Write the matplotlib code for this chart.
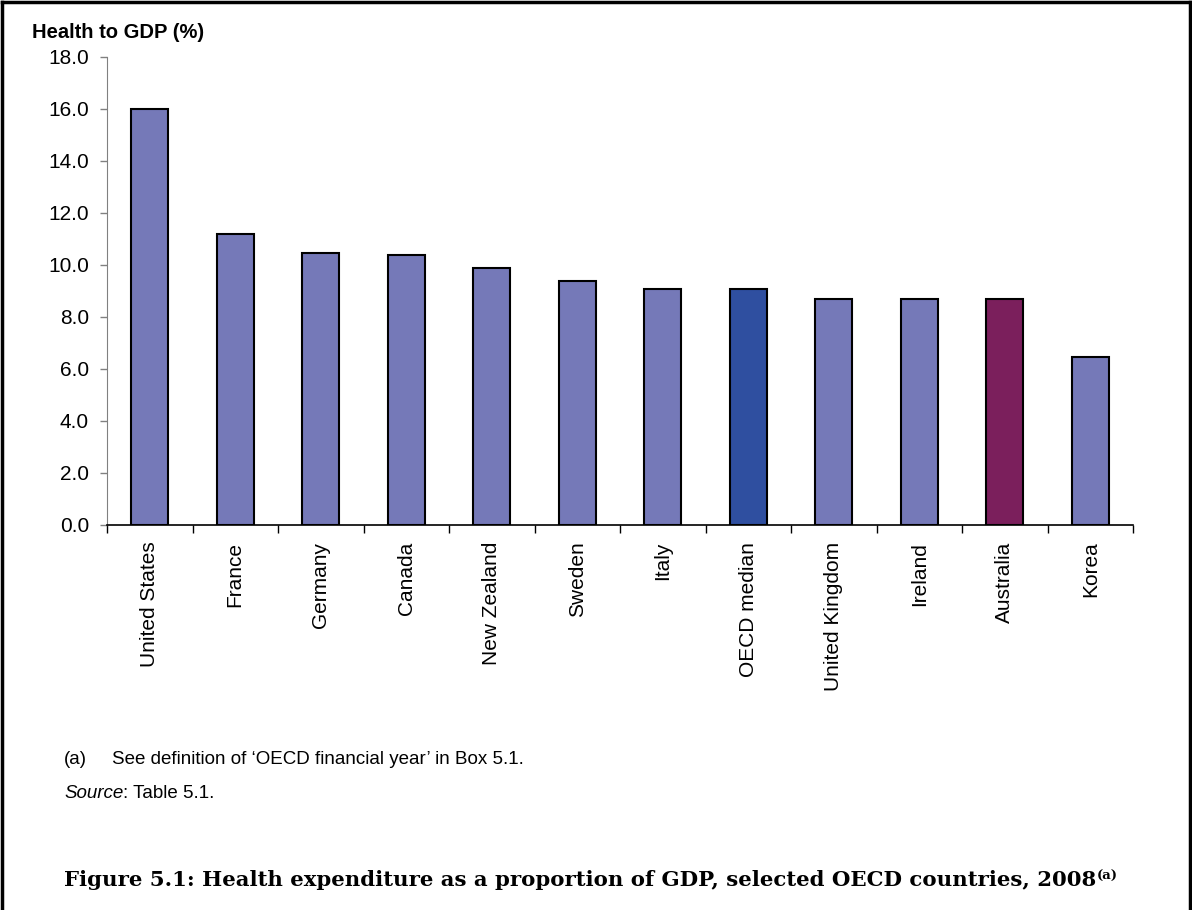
import matplotlib
matplotlib.use('Agg')
import matplotlib.pyplot as plt
from matplotlib.lines import Line2D

countries = ['United States', 'France', 'Germany', 'Canada', 'New Zealand', 'Sweden',
             'Italy', 'OECD median', 'United Kingdom', 'Ireland', 'Australia', 'Korea']
health_gdp = [16.0, 11.2, 10.45, 10.4, 9.9, 9.4, 9.07, 9.07, 8.7, 8.7, 8.7, 6.45]
yticks = [0, 2, 4, 6, 8, 10, 12, 14, 16, 18]

BAR = '#7579b8'
MEDIAN = '#2f4fa0'
AUS = '#7b1f5c'


def main():
    plt.rcParams['font.family'] = ['Liberation Sans', 'DejaVu Sans']
    fig = plt.figure(figsize=(11.92, 9.10), dpi=100)
    ax = fig.add_axes([107 / 1192, 1 - 525 / 910, (1133 - 107) / 1192, (525 - 57) / 910])

    colors = []
    for c in countries:
        if c == 'OECD median':
            colors.append(MEDIAN)
        elif c == 'Australia':
            colors.append(AUS)
        else:
            colors.append(BAR)
    x = range(len(countries))
    ax.bar(x, health_gdp, width=0.43, color=colors, edgecolor='black', linewidth=1.5, zorder=3)

    ax.set_xlim(-0.5, len(countries) - 0.5)
    ax.set_ylim(0, 18)
    ax.set_yticks(yticks)
    ax.set_yticklabels(['%.1f' % v for v in yticks], fontsize=15)
    ax.tick_params(axis='y', direction='out', length=5, width=1, color='#808080', pad=8)

    # labels at the centres, tick marks at the category boundaries
    ax.set_xticks(list(x))
    ax.set_xticklabels(countries, rotation=90, fontsize=15)
    ax.tick_params(axis='x', which='major', length=0, pad=12)
    ax.set_xticks([i - 0.5 for i in range(len(countries) + 1)], minor=True)
    ax.tick_params(axis='x', which='minor', direction='out', length=6, width=1, color='black')

    for s in ['top', 'right']:
        ax.spines[s].set_visible(False)
    ax.spines['left'].set_color('#808080')
    ax.spines['bottom'].set_color('black')
    ax.spines['bottom'].set_linewidth(1.2)

    fig.text(32 / 1192, 1 - 33 / 910, 'Health to GDP (%)', fontsize=14.5, fontweight='bold',
             ha='left', va='center')

    fig.text(64 / 1192, 1 - 760 / 910, '(a)', fontsize=13.5, ha='left', va='center')
    fig.text(112 / 1192, 1 - 760 / 910, "See definition of \u2018OECD financial year\u2019 in Box 5.1.",
             fontsize=13.5, ha='left', va='center')
    src = fig.text(64 / 1192, 1 - 798 / 910, 'Source', fontsize=13.5, style='italic',
                   ha='left', va='baseline')
    ax.annotate(': Table 5.1.', xy=(1, 0), xycoords=src, fontsize=13.5, ha='left', va='bottom',
                annotation_clip=False)

    cap = fig.text(64 / 1192, 1 - 880 / 910,
                   'Figure 5.1: Health expenditure as a proportion of GDP, selected OECD countries, 2008',
                   fontsize=15.3, fontweight='bold', family='DejaVu Serif', ha='left', va='center')
    ax.annotate('(a)', xy=(1, 1), xycoords=cap, fontsize=9.5, fontweight='bold',
                family='DejaVu Serif', ha='left', va='top', annotation_clip=False)

    # page frame
    for xs, ys in [([0.002, 0.002], [0, 0.998]), ([0.998, 0.998], [0, 0.998]),
                   ([0.002, 0.998], [0.998, 0.998])]:
        fig.add_artist(Line2D(xs, ys, color='black', linewidth=2.5, transform=fig.transFigure))

    fig.savefig('out.png', dpi=100)


if __name__ == "__main__":
    main()
